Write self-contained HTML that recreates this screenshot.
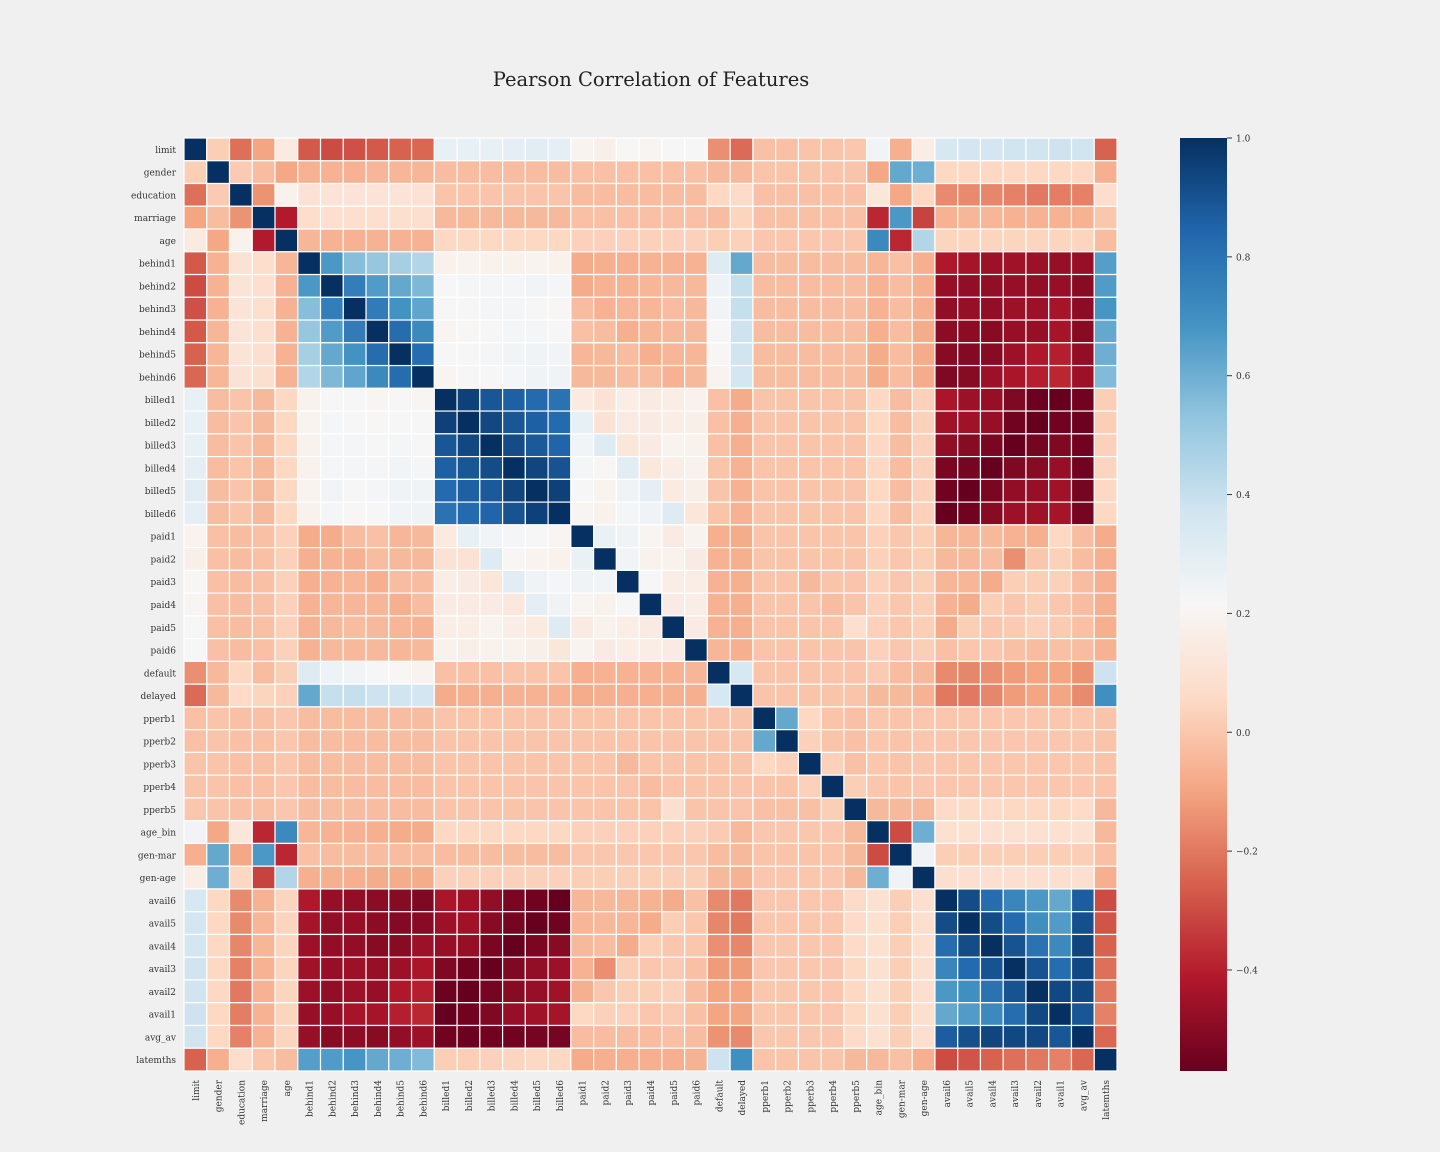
<!DOCTYPE html>
<html><head><meta charset="utf-8"><style>
html,body{margin:0;padding:0;background:#f0f0f0;}
svg{display:block;font-family:"DejaVu Serif","Liberation Serif",serif;}
</style></head><body>
<svg id="chart" width="1440" height="1152" xmlns="http://www.w3.org/2000/svg">
<rect width="1440" height="1152" fill="#f0f0f0"/>
<text x="651" y="86" text-anchor="middle" font-size="19.5" fill="#222">Pearson Correlation of Features</text>
<defs><linearGradient id="cbg" x1="0" y1="1" x2="0" y2="0">
<stop offset="0" stop-color="#67001f"/><stop offset="0.1" stop-color="#b2182b"/><stop offset="0.2" stop-color="#d6604d"/><stop offset="0.3" stop-color="#f4a582"/><stop offset="0.4" stop-color="#fddbc7"/><stop offset="0.5" stop-color="#f7f7f7"/><stop offset="0.6" stop-color="#d1e5f0"/><stop offset="0.7" stop-color="#92c5de"/><stop offset="0.8" stop-color="#4393c3"/><stop offset="0.9" stop-color="#2166ac"/><stop offset="1" stop-color="#053061"/>
</linearGradient></defs>
<g id="cells"></g>
<g id="ylab"></g>
<g id="xlab"></g>
<rect x="1180" y="138" width="47" height="933" fill="url(#cbg)"/>
<g id="cbt"></g>
</svg>
<script>
const labels = ["limit","gender","education","marriage","age","behind1","behind2","behind3","behind4","behind5","behind6","billed1","billed2","billed3","billed4","billed5","billed6","paid1","paid2","paid3","paid4","paid5","paid6","default","delayed","pperb1","pperb2","pperb3","pperb4","pperb5","age_bin","gen-mar","gen-age","avail6","avail5","avail4","avail3","avail2","avail1","avg_av","latemths"];
const upper = [
[.02,-.22,-.1,.14,-.27,-.3,-.29,-.27,-.25,-.24,.28,.28,.28,.29,.3,.29,.19,.17,.21,.2,.22,.22,-.15,-.23,-.02,-.02,-.01,-.01,0,.24,-.07,.16,.35,.36,.36,.37,.37,.38,.37,-.25],
[.01,-.03,-.09,-.06,-.06,-.06,-.05,-.05,-.05,-.03,-.03,-.03,-.03,-.03,-.03,-.02,-.02,-.02,-.02,-.02,-.02,-.04,-.04,-.01,-.01,-.01,-.01,-.01,-.09,.62,.6,.05,.05,.05,.05,.05,.05,.05,-.07],
[-.14,.18,.1,.11,.11,.11,.11,.1,-.01,-.01,-.01,-.01,-.01,-.01,-.03,-.03,-.03,-.03,-.03,-.03,.05,.06,-.02,-.02,-.02,-.02,-.02,.12,-.09,.05,-.16,-.16,-.17,-.18,-.2,-.19,-.18,.07],
[-.41,.07,.08,.08,.08,.08,.08,-.04,-.04,-.04,-.04,-.04,-.04,-.02,-.02,-.02,-.02,-.02,-.02,-.03,.04,-.02,-.02,-.02,-.02,-.02,-.38,.67,-.32,-.06,-.05,-.05,-.06,-.06,-.06,-.06,0],
[-.05,-.06,-.06,-.06,-.06,-.06,.05,.05,.05,.05,.05,.05,.03,.03,.03,.03,.03,.03,.02,.03,0,0,0,0,0,.72,-.38,.45,.04,.04,.04,.04,.04,.04,.04,-.03],
[.67,.55,.52,.48,.45,.18,.19,.18,.18,.19,.18,-.08,-.07,-.07,-.06,-.06,-.06,.32,.62,-.03,-.03,-.03,-.03,-.03,-.05,-.02,-.07,-.42,-.44,-.46,-.45,-.46,-.47,-.47,.65],
[.76,.66,.62,.57,.22,.23,.23,.23,.24,.23,-.08,-.06,-.06,-.05,-.04,-.04,.26,.4,-.03,-.03,-.03,-.03,-.03,-.06,-.03,-.07,-.47,-.48,-.48,-.47,-.48,-.47,-.5,.66],
[.77,.69,.63,.22,.22,.23,.23,.22,.21,-.03,-.06,-.05,-.05,-.03,-.04,.24,.4,-.03,-.03,-.03,-.03,-.03,-.06,-.03,-.07,-.48,-.47,-.48,-.46,-.46,-.44,-.49,.68],
[.82,.72,.2,.21,.22,.23,.23,.22,-.02,-.03,-.07,-.05,-.04,-.04,.22,.38,-.03,-.03,-.03,-.03,-.03,-.07,-.03,-.08,-.49,-.49,-.5,-.47,-.47,-.44,-.5,.62],
[.82,.22,.22,.23,.24,.25,.24,-.05,-.04,-.03,-.07,-.05,-.05,.21,.37,-.03,-.03,-.03,-.03,-.03,-.08,-.03,-.08,-.5,-.51,-.5,-.46,-.42,-.4,-.48,.6],
[.2,.22,.22,.23,.25,.25,-.04,-.04,-.03,-.03,-.06,-.04,.19,.36,-.03,-.03,-.03,-.03,-.03,-.08,-.03,-.08,-.52,-.5,-.46,-.43,-.4,-.38,-.46,.56],
[.95,.89,.86,.83,.8,.14,.1,.16,.15,.16,.18,-.02,-.08,-.01,-.01,-.01,-.01,-.01,.05,-.03,.03,-.43,-.46,-.47,-.52,-.56,-.57,-.55,.02],
[.93,.89,.86,.83,.28,.1,.15,.15,.16,.17,-.02,-.07,-.01,-.01,-.01,-.01,-.01,.05,-.03,.03,-.45,-.45,-.47,-.55,-.57,-.55,-.56,.02],
[.92,.88,.85,.24,.32,.12,.15,.19,.18,-.02,-.07,-.01,-.01,-.01,-.01,-.01,.05,-.03,.03,-.48,-.5,-.53,-.57,-.54,-.52,-.55,.03],
[.94,.9,.23,.21,.3,.13,.16,.18,-.01,-.06,-.01,-.01,-.01,-.01,-.01,.05,-.03,.03,-.53,-.54,-.57,-.52,-.5,-.47,-.55,.04],
[.95,.22,.19,.25,.29,.14,.17,-.01,-.06,-.01,-.01,-.01,-.01,-.01,.05,-.03,.03,-.55,-.57,-.53,-.48,-.47,-.45,-.54,.05],
[.2,.18,.23,.25,.32,.12,-.01,-.06,-.01,-.01,-.01,-.01,-.01,.05,-.03,.03,-.57,-.55,-.5,-.46,-.45,-.44,-.54,.05],
[.27,.25,.2,.15,.19,-.07,-.08,-.01,-.01,-.01,-.01,-.01,.03,0,.02,-.05,-.05,-.04,-.06,-.07,.05,-.03,-.08],
[.24,.18,.18,.15,-.06,-.07,-.01,-.01,-.01,-.01,-.01,.03,0,.02,-.04,-.04,-.03,-.15,0,.03,-.03,-.07],
[.22,.16,.16,-.06,-.07,-.01,-.01,-.04,-.01,-.01,.03,0,.02,-.05,-.05,-.08,.02,.02,.03,-.03,-.07],
[.15,.16,-.06,-.07,-.01,-.01,-.01,-.03,-.01,.03,0,.02,-.06,-.08,.02,0,.02,0,-.03,-.07],
[.15,-.06,-.07,-.01,-.01,-.01,-.01,.08,.03,0,.02,-.08,.02,0,.01,.03,.01,-.02,-.07],
[-.05,-.07,-.01,-.01,-.01,-.01,-.01,.03,0,.02,-.02,0,0,-.02,-.03,-.02,-.03,-.06],
[.35,-.01,-.01,-.01,-.01,-.01,.01,-.03,-.04,-.16,-.17,-.15,-.12,-.1,-.1,-.14,.38],
[-.01,-.01,-.01,-.01,-.01,-.04,-.04,-.06,-.2,-.2,-.17,-.12,-.1,-.1,-.16,.7],
[.62,.05,-.01,-.02,0,-.01,0,0,0,0,0,0,0,0,-.01],
[.03,-.01,-.02,0,-.01,0,0,0,0,0,0,0,0,-.01],
[.03,-.02,0,-.01,0,0,0,0,0,0,0,0,-.01],
[.02,0,-.01,0,0,0,0,0,0,0,0,-.01],
[-.04,-.04,-.04,.06,.06,.06,.05,.05,.05,.06,-.04],
[-.3,.6,.09,.09,.09,.09,.09,.09,.09,-.04],
[.25,.02,.02,.02,.02,.02,.02,.02,-.02],
[.08,.08,.08,.08,.08,.08,.08,-.07],
[.92,.82,.73,.67,.62,.87,-.3],
[.92,.83,.7,.66,.91,-.28],
[.9,.8,.72,.94,-.25],
[.9,.82,.93,-.22],
[.93,.93,-.2],
[.89,-.18],
[-.24]
];
const cbTicks = [1.0,0.8,0.6,0.4,0.2,0.0,-0.2,-0.4];
const vmin = -0.57, vmax = 1.0;
const X0=184, Y0=138, SIZE=933, N=labels.length, CS=SIZE/N;
const stops=["#67001f","#b2182b","#d6604d","#f4a582","#fddbc7","#f7f7f7","#d1e5f0","#92c5de","#4393c3","#2166ac","#053061"].map(h=>[parseInt(h.slice(1,3),16),parseInt(h.slice(3,5),16),parseInt(h.slice(5,7),16)]);
function color(v){let t=(v-vmin)/(vmax-vmin);t=Math.max(0,Math.min(1,t))*10;const i=Math.min(9,Math.floor(t)),f=t-i;const a=stops[i],b=stops[i+1];return `rgb(${a.map((c,k)=>Math.round(c+(b[k]-c)*f)).join(',')})`;}
function xPos(j){return X0+j*CS;}
function yPos(i){return Y0+i*CS;}
function cbY(v){return Y0+(vmax-v)/(vmax-vmin)*SIZE;}
const M=[];for(let i=0;i<N;i++){M.push(new Array(N).fill(0));M[i][i]=1;}
for(let i=0;i<upper.length;i++){upper[i].forEach((v,k)=>{const j=i+1+k;if(j<N){M[i][j]=v;M[j][i]=v;}});}
const NS="http://www.w3.org/2000/svg";
const cells=document.getElementById('cells'),yl=document.getElementById('ylab'),xl=document.getElementById('xlab'),cbt=document.getElementById('cbt');
for(let i=0;i<N;i++){for(let j=0;j<N;j++){const r=document.createElementNS(NS,'rect');
r.setAttribute('x',xPos(j));r.setAttribute('y',yPos(i));r.setAttribute('width',CS);r.setAttribute('height',CS);
r.setAttribute('fill',color(M[i][j]));r.setAttribute('stroke','#fff');r.setAttribute('stroke-width','1.2');


cells.appendChild(r);}}
labels.forEach((l,i)=>{const t=document.createElementNS(NS,'text');
t.setAttribute('x',176);t.setAttribute('y',yPos(i)+CS/2+3.5);t.setAttribute('text-anchor','end');t.setAttribute('font-size','9');t.setAttribute('fill','#333');t.textContent=l;


yl.appendChild(t);
const u=document.createElementNS(NS,'text');const cx=xPos(i)+CS/2+3.5;
u.setAttribute('transform',`translate(${cx},1080) rotate(-90)`);u.setAttribute('text-anchor','end');u.setAttribute('font-size','9');u.setAttribute('fill','#333');u.textContent=l;


xl.appendChild(u);});
cbTicks.forEach(v=>{const y=cbY(v);const ln=document.createElementNS(NS,'line');
ln.setAttribute('x1',1227);ln.setAttribute('x2',1232);ln.setAttribute('y1',y);ln.setAttribute('y2',y);ln.setAttribute('stroke','#333');


cbt.appendChild(ln);
const t=document.createElementNS(NS,'text');t.setAttribute('x',1236);t.setAttribute('y',y+3.5);t.setAttribute('font-size','9');t.setAttribute('fill','#333');
t.textContent=(v<0?'\u2212':'')+Math.abs(v).toFixed(1);


cbt.appendChild(t);});
</script>
</body></html>
